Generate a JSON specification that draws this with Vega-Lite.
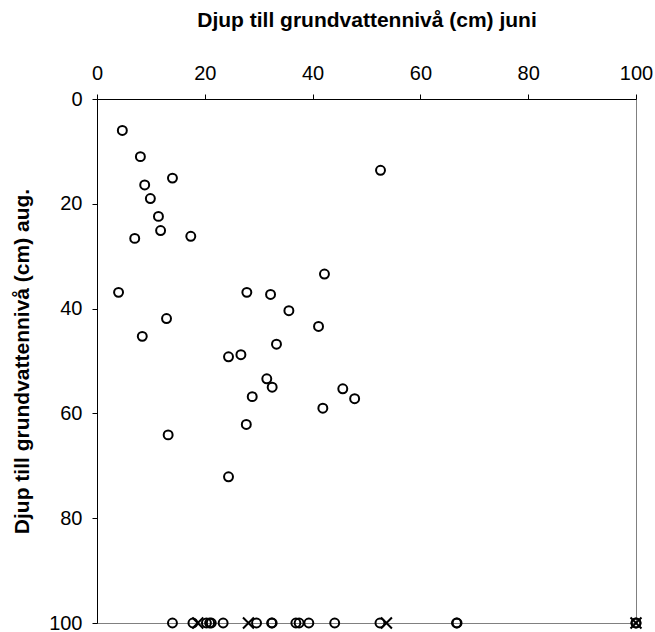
{
  "$schema": "https://vega.github.io/schema/vega-lite/v6.json",
  "autosize": {"type": "none"},
  "padding": {"left": 97, "top": 99, "right": 19, "bottom": 9},
  "width": 539,
  "height": 524,
  "background": "white",
  "config": {
    "view": {"stroke": "#808080", "strokeWidth": 1},
    "font": "Liberation Sans"
  },
  "data": {
    "values": [
      {"juni": 4.7, "aug": 6.0, "typ": "o"},
      {"juni": 8.05, "aug": 11.0, "typ": "o"},
      {"juni": 14.0, "aug": 15.1, "typ": "o"},
      {"juni": 8.85, "aug": 16.4, "typ": "o"},
      {"juni": 9.9, "aug": 19.0, "typ": "o"},
      {"juni": 11.4, "aug": 22.4, "typ": "o"},
      {"juni": 11.8, "aug": 25.1, "typ": "o"},
      {"juni": 7.0, "aug": 26.6, "typ": "o"},
      {"juni": 17.4, "aug": 26.2, "typ": "o"},
      {"juni": 52.6, "aug": 13.6, "typ": "o"},
      {"juni": 42.2, "aug": 33.4, "typ": "o"},
      {"juni": 4.0, "aug": 36.9, "typ": "o"},
      {"juni": 27.8, "aug": 36.9, "typ": "o"},
      {"juni": 32.2, "aug": 37.3, "typ": "o"},
      {"juni": 35.6, "aug": 40.4, "typ": "o"},
      {"juni": 41.1, "aug": 43.4, "typ": "o"},
      {"juni": 12.9, "aug": 41.9, "typ": "o"},
      {"juni": 8.4, "aug": 45.3, "typ": "o"},
      {"juni": 33.3, "aug": 46.8, "typ": "o"},
      {"juni": 24.4, "aug": 49.2, "typ": "o"},
      {"juni": 26.7, "aug": 48.8, "typ": "o"},
      {"juni": 31.5, "aug": 53.4, "typ": "o"},
      {"juni": 32.5, "aug": 55.0, "typ": "o"},
      {"juni": 28.8, "aug": 56.8, "typ": "o"},
      {"juni": 45.6, "aug": 55.3, "typ": "o"},
      {"juni": 47.8, "aug": 57.2, "typ": "o"},
      {"juni": 41.9, "aug": 59.0, "typ": "o"},
      {"juni": 27.7, "aug": 62.1, "typ": "o"},
      {"juni": 13.2, "aug": 64.1, "typ": "o"},
      {"juni": 24.4, "aug": 72.1, "typ": "o"},
      {"juni": 14.0, "aug": 100, "typ": "o"},
      {"juni": 17.8, "aug": 100, "typ": "o"},
      {"juni": 20.3, "aug": 100, "typ": "o"},
      {"juni": 20.9, "aug": 100, "typ": "o"},
      {"juni": 21.2, "aug": 100, "typ": "o"},
      {"juni": 23.4, "aug": 100, "typ": "o"},
      {"juni": 29.6, "aug": 100, "typ": "o"},
      {"juni": 32.4, "aug": 100, "typ": "o"},
      {"juni": 32.5, "aug": 100, "typ": "o"},
      {"juni": 36.9, "aug": 100, "typ": "o"},
      {"juni": 37.5, "aug": 100, "typ": "o"},
      {"juni": 39.3, "aug": 100, "typ": "o"},
      {"juni": 44.1, "aug": 100, "typ": "o"},
      {"juni": 52.5, "aug": 100, "typ": "o"},
      {"juni": 66.7, "aug": 100, "typ": "o"},
      {"juni": 66.8, "aug": 100, "typ": "o"},
      {"juni": 100, "aug": 100, "typ": "o"},
      {"juni": 100, "aug": 100, "typ": "o"},
      {"juni": 18.7, "aug": 100, "typ": "x"},
      {"juni": 28.1, "aug": 100, "typ": "x"},
      {"juni": 53.7, "aug": 100, "typ": "x"},
      {"juni": 100, "aug": 100, "typ": "x"}
    ]
  },
  "mark": {"type": "point", "filled": false, "stroke": "black", "strokeWidth": 2, "opacity": 1, "clip": false},
  "encoding": {
    "x": {
      "field": "juni", "type": "quantitative",
      "scale": {"domain": [0, 100], "nice": false, "zero": false},
      "axis": {
        "orient": "top", "values": [0, 20, 40, 60, 80, 100], "grid": false,
        "title": "Djup till grundvattennivå (cm) juni",
        "titleFont": "Liberation Sans", "titleFontSize": 21, "titleFontWeight": "bold", "titleColor": "black",
        "titlePadding": 33,
        "labelFont": "Liberation Sans", "labelFontSize": 20, "labelColor": "black", "labelPadding": 11,
        "domainColor": "black", "domainWidth": 1, "tickColor": "black", "tickSize": 5, "labelFlush": false
      }
    },
    "y": {
      "field": "aug", "type": "quantitative",
      "scale": {"domain": [0, 100], "nice": false, "zero": false, "reverse": true},
      "axis": {
        "orient": "left", "values": [0, 20, 40, 60, 80, 100], "grid": false,
        "title": "Djup till grundvattennivå (cm) aug.",
        "titleFont": "Liberation Sans", "titleFontSize": 21, "titleFontWeight": "bold", "titleColor": "black",
        "titlePadding": 16,
        "labelFont": "Liberation Sans", "labelFontSize": 20, "labelColor": "black", "labelPadding": 10,
        "domainColor": "black", "domainWidth": 1, "tickColor": "black", "tickSize": 5, "labelFlush": false
      }
    },
    "shape": {
      "field": "typ", "type": "nominal",
      "scale": {"domain": ["o", "x"], "range": ["circle", "M-1,-1L1,1M-1,1L1,-1"]},
      "legend": null
    },
    "size": {
      "field": "typ", "type": "nominal",
      "scale": {"domain": ["o", "x"], "range": [80, 120]},
      "legend": null
    }
  }
}
